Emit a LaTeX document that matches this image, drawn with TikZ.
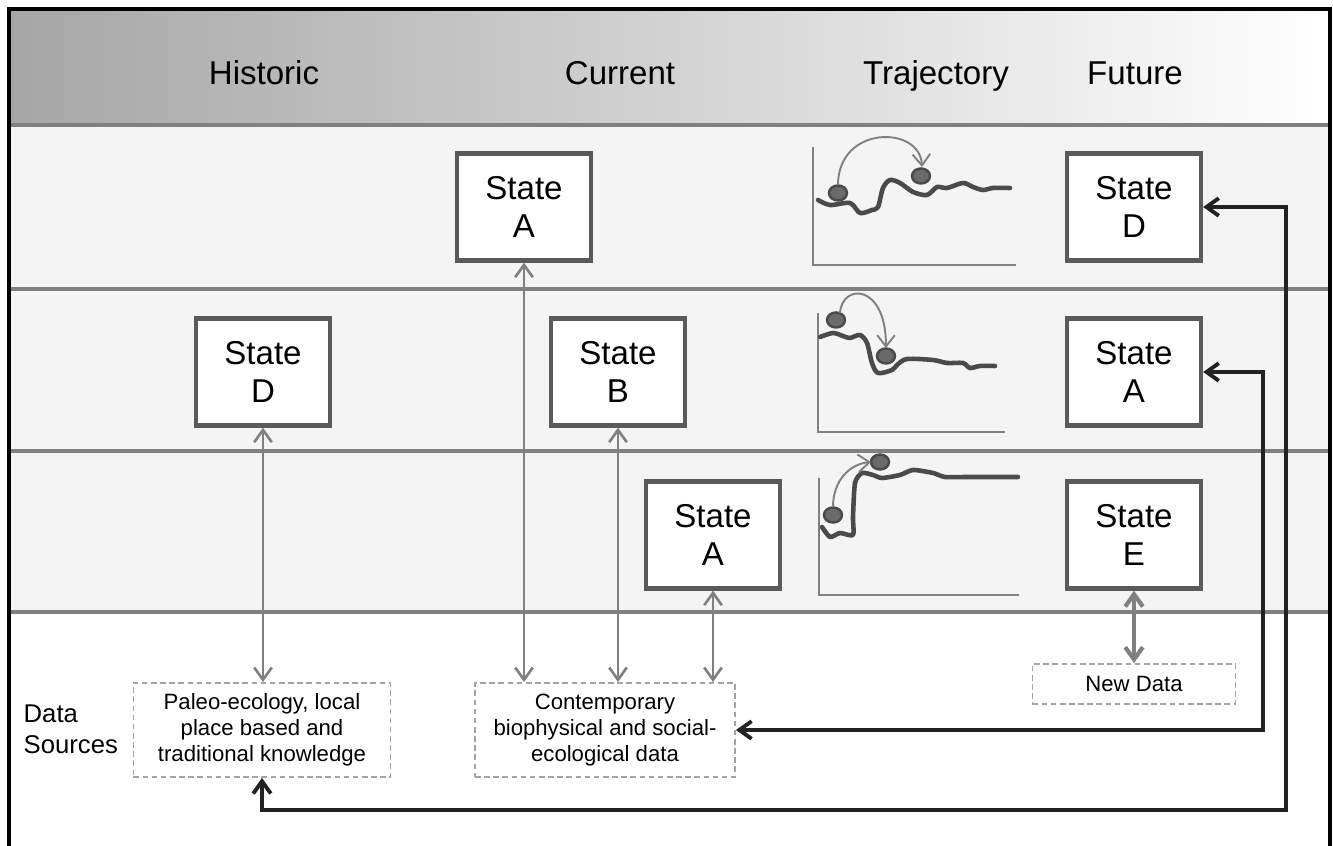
\documentclass[tikz,border=0pt]{standalone}
\usepackage{fontspec}
\setmainfont{Liberation Sans}
\usepackage{tikz}
\usetikzlibrary{positioning, arrows.meta}

\definecolor{hdrgray}{HTML}{A6A6A6}
\definecolor{bandgray}{HTML}{F4F4F4}
\definecolor{linegray}{HTML}{808080}
\definecolor{boxgray}{HTML}{5A5A5A}
\definecolor{dashgray}{HTML}{A3A3A3}
\definecolor{curvegray}{HTML}{4A4A4A}
\definecolor{dotgray}{HTML}{6A6A6A}
\definecolor{loopblack}{HTML}{222222}

\begin{document}
\begin{tikzpicture}[x=0.01cm, y=-0.01cm,
  statebox/.style={draw=boxgray, line width=1.2pt, fill=white, minimum width=1.34cm, minimum height=1.07cm, inner sep=0pt, align=center, font=\fontsize{9.4}{10.8}\selectfont},
  databox/.style={draw=dashgray, line width=0.5pt, dash pattern=on 1.6pt off 1pt, fill=white, inner sep=0pt, align=center, font=\fontsize{6.3}{7.4}\selectfont},
  header/.style={anchor=base, font=\fontsize{9.4}{11}\selectfont},
  link/.style={draw=linegray, line width=0.75pt, {Straight Barb[length=3.5pt,width=5pt]}-{Straight Barb[length=3.5pt,width=5pt]}},
  feedback/.style={draw=loopblack, line width=1.1pt, {Straight Barb[length=3.5pt,width=5pt]}-{Straight Barb[length=3.5pt,width=5pt]}},
  axis/.style={draw=linegray, line width=0.6pt},
  curve/.style={draw=curvegray, line width=1.3pt, line join=round, line cap=round},
  dot/.style={fill=dotgray, draw=curvegray, line width=0.7pt},
  jump/.style={draw=linegray, line width=0.55pt, -{Straight Barb[length=3.2pt,width=5pt]}}]
\useasboundingbox (0,0) rectangle (1333,846);

% Header and bands
\shade[left color=hdrgray, right color=white] (9,9) rectangle (1330,125);
\fill[bandgray] (9,125) rectangle (1330,612);
\foreach \y in {125,289,451,612}
  \draw[linegray, line width=0.9pt] (9,\y) -- (1330,\y);
\draw[black, line width=1pt] (9,850) -- (9,9) -- (1330,9) -- (1330,850);

\node[header] (hHist) at (264,85) {Historic};
\node[header] (hCur) at (620,85) {Current};
\node[header] (hTraj) at (936,85) {Trajectory};
\node[header] (hFut) at (1135,85) {Future};

% Trajectory sketches
\draw[axis] (813,147) -- (813,265) -- (1016,265);
\draw[curve] plot[smooth, tension=0.5] coordinates {(818,200) (830,205) (850,203) (860,213) (872,210) (878,207) (883,188) (890,180) (900,183) (913,192) (927,195) (937,187) (947,188) (963,183) (973,187) (983,190) (993,188) (1010,188)};
\draw[dot] (838,193) ellipse [x radius=0.09cm, y radius=0.075cm];
\draw[dot] (921,176) ellipse [x radius=0.09cm, y radius=0.075cm];
\draw[jump] (838,185) .. controls (838,125) and (920,125) .. (922,167);

\draw[axis] (818,313) -- (818,432) -- (1005,432);
\draw[curve] plot[smooth, tension=0.5] coordinates {(820,337) (833,333) (843,336) (850,338) (860,335) (867,343) (872,363) (878,373) (892,370) (897,365) (907,359) (933,360) (947,363) (963,363) (970,368) (980,366) (995,366)};
\draw[dot] (836,320) ellipse [x radius=0.09cm, y radius=0.075cm];
\draw[dot] (886,356) ellipse [x radius=0.09cm, y radius=0.075cm];
\draw[jump] (840,313) .. controls (842,283) and (886,283) .. (886,348);

\draw[axis] (819,478) -- (819,595) -- (1019,595);
\draw[curve] plot[smooth, tension=0.4] coordinates {(822,527) (830,537) (840,533) (853,535) (853,517) (855,483) (862,473) (873,475) (882,478) (900,475) (913,470) (933,473) (945,477) (967,477) (1018,477)};
\draw[dot] (833,515) ellipse [x radius=0.09cm, y radius=0.075cm];
\draw[dot] (880,462) ellipse [x radius=0.09cm, y radius=0.075cm];
\draw[jump] (833,507) .. controls (833,480) and (850,464) .. (871,462);

% States
\node[statebox] (saCur) at (524,207) {State\\A};
\node[statebox] (sdHist) at (263,372) {State\\D};
\node[statebox] (sbCur) at (618,372) {State\\B};
\node[statebox] (saLow) at (713,535) {State\\A};
\node[statebox] (sdFut) at (1134,207) {State\\D};
\node[statebox] (saFut) at (1134,372) {State\\A};
\node[statebox] (seFut) at (1134,535) {State\\E};

% Data sources
\node[anchor=west, align=left, inner sep=0pt, font=\fontsize{7.3}{8.8}\selectfont] (dsrc) at (23,729) {Data\\Sources};
\node[databox, minimum width=2.57cm, minimum height=0.94cm] (paleo) at (262,730) {Paleo-ecology, local\\place based and\\traditional knowledge};
\node[databox, minimum width=2.6cm, minimum height=0.94cm] (contemp) at (605,730) {Contemporary\\biophysical and social-\\ecological data};
\node[databox, minimum width=2.03cm, minimum height=0.4cm] (newdata) at (1134,684) {New Data};

% Links
\draw[link] (sdHist.south) -- (sdHist.south |- paleo.north);
\draw[link] (saCur.south) -- (saCur.south |- contemp.north);
\draw[link] (sbCur.south) -- (sbCur.south |- contemp.north);
\draw[link] (saLow.south) -- (saLow.south |- contemp.north);
\draw[link, line width=1.2pt] (seFut.south) -- (newdata.north);

\coordinate (outerC) at (1286,810);
\coordinate (innerC) at (1263,730);
\draw[feedback] (paleo.south) |- (outerC) |- (sdFut.east);
\draw[feedback] (contemp.east) -- (innerC) |- (saFut.east);
\end{tikzpicture}
\end{document}
